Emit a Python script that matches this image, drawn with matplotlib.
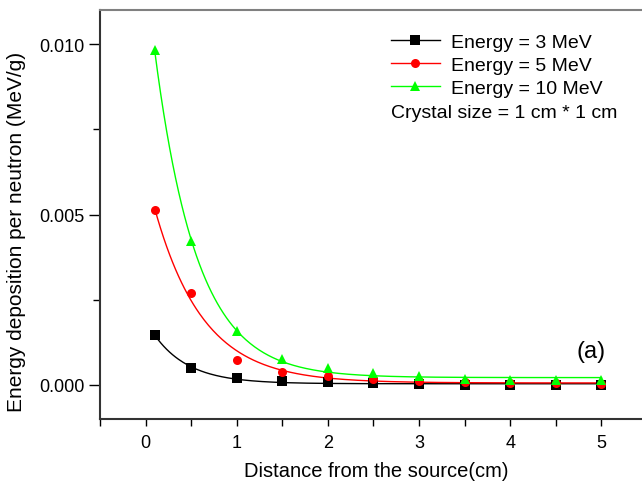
import numpy as np
import matplotlib
matplotlib.use("Agg")
import matplotlib.pyplot as plt
from matplotlib.ticker import MultipleLocator, FormatStrFormatter
from matplotlib.lines import Line2D

# ---- data ----
distance = [0.1, 0.5, 1.0, 1.5, 2.0, 2.5, 3.0, 3.5, 4.0, 4.5, 5.0]
e3_mev = [0.00147, 0.00049, 0.000215, 0.000118, 0.00008, 0.00005, 0.00002, 0.00001, 0.00001, 0.00001, 0.00001]
e5_mev = [0.00512, 0.0027, 0.000726, 0.00039, 0.000265, 0.000168, 0.000118, 0.00008, 0.00006, 0.00005, 0.00004]
e10_mev = [0.00982, 0.00422, 0.00158, 0.00077, 0.0005, 0.00035, 0.00026, 0.00018, 0.00015, 0.00013, 0.00013]
labels = ["Energy = 3 MeV", "Energy = 5 MeV", "Energy = 10 MeV"]
colors = ["#000000", "#FF0000", "#00FF00"]
markers = ["s", "o", "^"]
note = "Crystal size = 1 cm * 1 cm"
panel = "(a)"
xlabel = "Distance from the source(cm)"
ylabel = "Energy deposition per neutron (MeV/g)"

plt.rcParams['font.family'] = ['Liberation Sans', 'DejaVu Sans']

W, H = 642, 485
fig = plt.figure(figsize=(W / 100, H / 100), dpi=100)
ax = fig.add_axes([100 / W, (H - 420) / H, 547 / W, 409 / H])


def expdec_fit(x, y):
    """First-order exponential decay fit y = y0 + A*exp(-x/t) (least squares)."""
    x = np.asarray(x); y = np.asarray(y)
    best = None
    for t in np.linspace(0.05, 3.0, 600):
        M = np.column_stack([np.ones_like(x), np.exp(-x / t)])
        coef, *_ = np.linalg.lstsq(M, y, rcond=None)
        err = np.sum((M @ coef - y) ** 2)
        if best is None or err < best[0]:
            best = (err, coef, t)
    _, (y0, A), t = best
    return lambda xx: y0 + A * np.exp(-xx / t)


msize = {"s": 6.5, "o": 6.5, "^": 7.5}
xs = np.linspace(min(distance), max(distance), 300)
for ys, c, m in zip([e3_mev, e5_mev, e10_mev], colors, markers):
    f = expdec_fit(distance, ys)
    ax.plot(xs, f(xs), color=c, lw=1.0, zorder=2)
    ax.plot(distance, ys, linestyle='none', marker=m, color=c,
            markersize=msize[m], markeredgewidth=0, zorder=3)

ax.set_xlim(-0.5, 5.5)
ax.set_ylim(-0.001, 0.011)
ax.xaxis.set_major_locator(MultipleLocator(1))
ax.xaxis.set_minor_locator(MultipleLocator(0.5))
ax.yaxis.set_major_locator(MultipleLocator(0.005))
ax.yaxis.set_minor_locator(MultipleLocator(0.0025))
ax.yaxis.set_major_formatter(FormatStrFormatter('%.3f'))
ax.tick_params(axis='both', which='both', direction='out', width=1.0, colors='#000000',
               labelsize=13)
ax.tick_params(axis='x', which='major', length=5, pad=6)
ax.tick_params(axis='x', which='minor', length=5)
ax.tick_params(axis='y', which='major', length=8, pad=3)
ax.tick_params(axis='y', which='minor', length=5)

ax.spines['right'].set_visible(False)
ax.spines['top'].set_color('#808080')
ax.spines['top'].set_linewidth(1.5)
ax.spines['left'].set_color('#333333')
ax.spines['left'].set_linewidth(1.5)
ax.spines['bottom'].set_color('#333333')
ax.spines['bottom'].set_linewidth(1.5)

handles = [Line2D([], [], color=c, marker=m, lw=1.0, markersize=msize[m],
                  markeredgewidth=0) for c, m in zip(colors, markers)]
fig.legend(handles, labels, loc='upper left', bbox_to_anchor=(391 / W, 1 - 34 / H),
           frameon=False, fontsize=14, borderpad=0, borderaxespad=0,
           handlelength=2.5, handletextpad=0.6, labelspacing=0.29)

fig.text(391 / W, 1 - 113 / H, note, fontsize=14, ha='left', va='center')
ax.text(577 / W, 1 - 352 / H, panel, transform=fig.transFigure, fontsize=17,
        ha='left', va='center')
fig.text(376 / W, 1 - 472 / H, xlabel, fontsize=14.5, ha='center', va='center')
fig.text(17 / W, 1 - 232 / H, ylabel, fontsize=15, ha='center', va='center', rotation=90)

fig.savefig("out.png", dpi=100)
